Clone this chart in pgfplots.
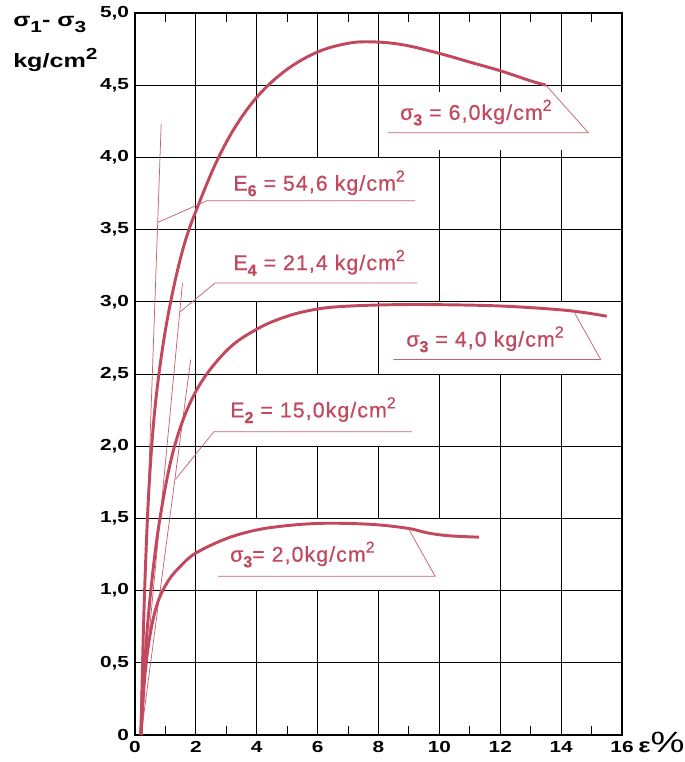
\documentclass[border=0pt]{standalone}
\usepackage{pgfplots}
\pgfplotsset{compat=1.18}
\usepackage{fontspec}
\setmainfont{Liberation Sans}
\newfontfamily\tickfont{Liberation Sans}[FakeStretch=1.3]
\newfontfamily\redfont{Liberation Sans}[LetterSpace=5, FakeBold=0.6]
\definecolor{curve}{RGB}{194,72,94}
\definecolor{thinred}{RGB}{200,96,112}
% subscripts and superscripts for the hand-lettered labels
\newcommand{\lo}[1]{\raisebox{-0.5ex}{\fontsize{12}{12}\selectfont\bfseries #1}}
\newcommand{\hi}[1]{\raisebox{0.8ex}{\fontsize{12}{12}\selectfont #1}}

\begin{document}
\begin{tikzpicture}[x=1pt,y=1pt,
  vgrid/.style={black, line width=0.7pt},
  leader/.style={thinred, line width=0.55pt},
  lbl/.style={text=curve, font=\redfont\fontsize{16}{18}\selectfont, inner sep=0pt}]
\useasboundingbox (0,0) rectangle (513,571.5);
\begin{axis}[
  at={(101.25pt,20.25pt)}, anchor=south west,
  scale only axis, width=365.25pt, height=541.5pt,
  xmin=0, xmax=16, ymin=0, ymax=5,
  xtick={0,2,4,6,8,10,12,14,16},
  xticklabels={0,2,4,6,8,10,12,14,16},
  minor xtick={1,3,5,7,9,11,13,15},
  ytick={0,0.5,1,1.5,2,2.5,3,3.5,4,4.5,5},
  yticklabels={0,{0,5},{1,0},{1,5},{2,0},{2,5},{3,0},{3,5},{4,0},{4,5},{5,0}},
  major tick length=0pt, minor tick length=7pt,
  minor tick style={black, line width=0.8pt},
  ymajorgrids, grid style={black, line width=0.7pt},
  axis line style={black, line width=0.9pt},
  tick label style={font=\tickfont\bfseries\fontsize{12}{13}\selectfont},
  xticklabel style={yshift=-1pt},
  yticklabel style={xshift=-1pt},
  clip=false,
]
% vertical grid lines, left open where the labels sit
\draw[vgrid] (axis cs:2,0) -- (axis cs:2,5);
\draw[vgrid] (axis cs:4,0) -- (axis cs:4,1);
\draw[vgrid] (axis cs:4,1.5) -- (axis cs:4,2);
\draw[vgrid] (axis cs:4,2.5) -- (axis cs:4,3);
\draw[vgrid] (axis cs:4,4) -- (axis cs:4,5);
\draw[vgrid] (axis cs:6,0) -- (axis cs:6,1);
\draw[vgrid] (axis cs:6,1.5) -- (axis cs:6,2);
\draw[vgrid] (axis cs:6,2.5) -- (axis cs:6,3);
\draw[vgrid] (axis cs:6,4) -- (axis cs:6,5);
\draw[vgrid] (axis cs:8,0) -- (axis cs:8,1);
\draw[vgrid] (axis cs:8,1.5) -- (axis cs:8,2);
\draw[vgrid] (axis cs:8,2.5) -- (axis cs:8,3);
\draw[vgrid] (axis cs:8,4) -- (axis cs:8,5);
\draw[vgrid] (axis cs:10,0) -- (axis cs:10,1);
\draw[vgrid] (axis cs:10,1.5) -- (axis cs:10,2.5);
\draw[vgrid] (axis cs:10,3) -- (axis cs:10,4);
\draw[vgrid] (axis cs:10,4.5) -- (axis cs:10,5);
\draw[vgrid] (axis cs:12,0) -- (axis cs:12,2.5);
\draw[vgrid] (axis cs:12,3) -- (axis cs:12,4);
\draw[vgrid] (axis cs:12,4.5) -- (axis cs:12,5);
\draw[vgrid] (axis cs:14,0) -- (axis cs:14,2.5);
\draw[vgrid] (axis cs:14,3) -- (axis cs:14,4);
\draw[vgrid] (axis cs:14,4.5) -- (axis cs:14,5);
% short stubs where the grid is interrupted
\draw[vgrid] (axis cs:10,4.5) -- (axis cs:10,4.45) (axis cs:12,4.5) -- (axis cs:12,4.45) (axis cs:14,4.5) -- (axis cs:14,4.45);
\draw[vgrid] (axis cs:10,4) -- (axis cs:10,4.05) (axis cs:12,4) -- (axis cs:12,4.05) (axis cs:14,4) -- (axis cs:14,4.05);

% tangent lines
\addplot[thinred, line width=0.55pt] coordinates {(0.15,0) (0.86,4.23)};
\addplot[thinred, line width=0.55pt] coordinates {(0.15,0) (1.56,3.13)};
\addplot[thinred, line width=0.55pt] coordinates {(0.2,0) (1.83,2.6)};

% stress-strain curves
\addplot[curve, line width=2.2pt, smooth, tension=0.6] coordinates {
 (0.2,0) (0.26,0.6) (0.35,1.2) (0.47,1.75) (0.65,2.25) (0.92,2.7) (1.25,3.08)
 (1.65,3.42) (2.1,3.68) (2.7,3.98) (3.35,4.23) (4.1,4.44)
 (5.0,4.61) (6.0,4.73) (7.0,4.79) (7.8,4.80) (8.8,4.78) (10.0,4.72) (11.0,4.66)
 (12.0,4.60) (13.0,4.53) (13.5,4.50)};
\addplot[curve, line width=2.2pt, smooth, tension=0.6] coordinates {
 (0.2,0) (0.32,0.5) (0.52,1.0) (0.82,1.5) (1.3,2.0) (2.0,2.38) (3.0,2.66)
 (4.0,2.81) (5.0,2.9) (6.0,2.95) (7.0,2.97) (8.5,2.98) (10,2.98) (12.1,2.97)
 (14.2,2.94) (15.5,2.90)};
\addplot[curve, line width=2.2pt, smooth, tension=0.6] coordinates {
 (0.2,0) (0.32,0.4) (0.5,0.7) (0.75,0.92) (1.1,1.07) (1.5,1.17) (2.0,1.26)
 (3.0,1.36) (4.0,1.42) (5.0,1.45) (6.0,1.465) (7.0,1.465) (8.0,1.455)
 (9.0,1.43) (9.6,1.40) (10.3,1.38) (11.3,1.37)};

% leader lines
\addplot[leader] coordinates {(0.75,3.55) (2.37,3.70) (9.2,3.70)};
\addplot[leader] coordinates {(1.48,2.93) (2.63,3.13) (9.27,3.13)};
\addplot[leader] coordinates {(1.33,1.77) (2.59,2.10) (9.1,2.10)};
\addplot[leader] coordinates {(13.5,4.50) (14.9,4.17) (8.32,4.17)};
\addplot[leader] coordinates {(14.45,2.92) (15.3,2.60) (8.49,2.60)};
\addplot[leader] coordinates {(8.98,1.43) (9.86,1.10) (2.73,1.10)};

% labels
\node[lbl] at (axis cs:11.2,4.31) {σ\lo{3} = 6,0kg/cm\hi{2}};
\node[lbl] at (axis cs:6.05,3.82) {E\lo{6} = 54,6 kg/cm\hi{2}};
\node[lbl] at (axis cs:6.05,3.27) {E\lo{4} = 21,4 kg/cm\hi{2}};
\node[lbl] at (axis cs:11.5,2.74) {σ\lo{3} = 4,0 kg/cm\hi{2}};
\node[lbl] at (axis cs:5.85,2.25) {E\lo{2} = 15,0kg/cm\hi{2}};
\node[lbl] at (axis cs:5.5,1.25) {σ\lo{3}= 2,0kg/cm\hi{2}};

\node[anchor=base west, inner sep=0pt] at (axis cs:16,0) [xshift=12pt, yshift=-13.5pt]
  {\tickfont\bfseries\fontsize{15}{16}\selectfont ε\fontsize{22}{24}\mdseries\%};
\end{axis}
\node[anchor=base west, inner sep=0pt] at (9.75,551.25)
  {\tickfont\bfseries\fontsize{14.5}{16}\selectfont σ\lo{1}- σ\lo{3}};
\node[anchor=base west, inner sep=0pt] at (9.75,520.5)
  {\tickfont\bfseries\fontsize{14.5}{16}\selectfont kg/cm\hi{2}};
\end{tikzpicture}
\end{document}
